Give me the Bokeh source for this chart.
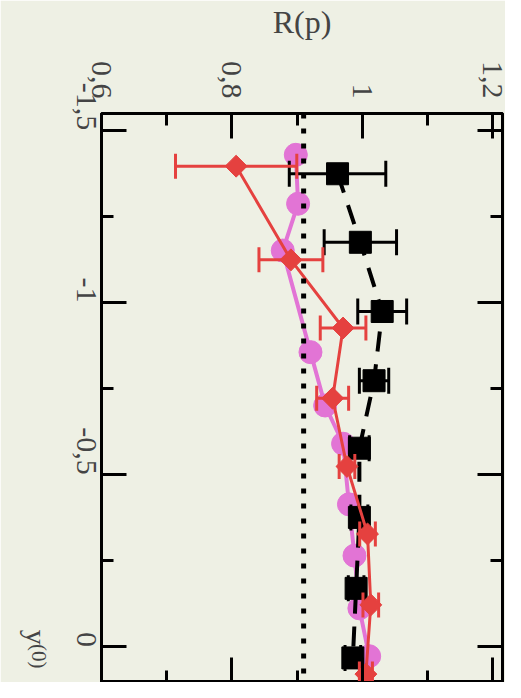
import math
from bokeh.plotting import figure
from bokeh.models import Range1d, LinearAxis, FixedTicker, Span
from bokeh.embed import file_html
from bokeh.resources import INLINE

# ---------------- data ----------------
# pink circles (no error bars)
pink_y0 = [-1.429, -1.287, -1.151, -0.856, -0.701, -0.590, -0.414, -0.265, -0.112, 0.027]
pink_R = [0.898, 0.9015, 0.878, 0.9205, 0.943, 0.9705, 0.9795, 0.988, 0.9955, 1.0105]

# black squares with errors
black_y0 = [-1.374, -1.175, -0.974, -0.773, -0.577, -0.376, -0.170, 0.032]
black_R = [0.962, 0.997, 1.0305, 1.018, 0.9955, 0.9955, 0.9905, 0.9855]
black_err = [0.074, 0.0555, 0.0375, 0.0225, 0.015, 0.013, 0.012, 0.012]

# red diamonds with errors
red_y0 = [-1.396, -1.124, -0.926, -0.722, -0.524, -0.328, -0.122, 0.079]
red_R = [0.8065, 0.8905, 0.9705, 0.9545, 0.9765, 1.008, 1.013, 1.0055]
red_err = [0.093, 0.049, 0.035, 0.0245, 0.012, 0.012, 0.012, 0.010]

ref_R = 0.91

R_ticks = [0.6, 0.8, 1.0, 1.2]
R_minor = [0.7, 0.9, 1.1]
R_labels = ["0,6", "0,8", "1", "1,2"]
y_ticks = [-1.5, -1.0, -0.5, 0.0]
y_minor = [-1.25, -0.75, -0.25]
y_labels = ["-1,5", "-1", "-0,5", "0"]
y_title_main = "y"
y_title_sup = "(0)"
y_main_at = -0.006
y_sup_at = 0.063

BG = "#eef0e4"
PINK = "#e274d5"
RED = "#e5413f"
FONT = "Liberation Serif"

p = figure(width=505, height=682,
           x_range=Range1d(0.6, 1.215), y_range=Range1d(0.1034, -1.549),
           x_axis_location="above", y_axis_location="left",
           output_backend="svg", toolbar_location=None,
           min_border_left=92, min_border_right=3,
           min_border_top=107, min_border_bottom=0,
           background_fill_color=BG, border_fill_color=BG)
p.grid.visible = False
p.outline_line_color = "black"
p.outline_line_width = 3

p.add_layout(LinearAxis(), "right")
p.add_layout(LinearAxis(), "below")

for ax in p.above + p.below:
    ax.ticker = FixedTicker(ticks=R_ticks, minor_ticks=R_minor)
    ax.major_label_overrides = {t: l for t, l in zip(R_ticks, R_labels)}
for ax in [p.left[0], p.right[0]]:
    ax.ticker = FixedTicker(ticks=y_ticks, minor_ticks=y_minor)
    ax.major_label_overrides = {t: l for t, l in zip(y_ticks, y_labels)}

for ax in p.above + p.below + [p.left[0], p.right[0]]:
    ax.axis_line_width = 3
    ax.major_tick_in = 25
    ax.major_tick_out = 0
    ax.minor_tick_in = 12
    ax.minor_tick_out = 0
    ax.major_tick_line_width = 3
    ax.minor_tick_line_width = 3
    ax.major_label_text_font = FONT
    ax.major_label_text_font_size = "30px"
    ax.major_label_orientation = -math.pi / 2

p.above[0].major_label_standoff = 15
p.left[0].major_label_standoff = 15

# mirrored axes: ticks only, no labels
for ax in (p.right[0], p.below[0]):
    ax.major_label_text_font_size = "1px"
    ax.major_label_text_color = None
    ax.major_label_standoff = 0

top = p.above[0]
top.axis_label = "R(p)"
top.axis_label_text_font = FONT
top.axis_label_text_font_size = "32px"
top.axis_label_text_font_style = "normal"
top.axis_label_standoff = 18


def title_axis(at, text, size, standoff):
    return LinearAxis(ticker=FixedTicker(ticks=[at], minor_ticks=[]),
                      major_label_overrides={at: text},
                      axis_line_color=None, major_tick_line_color=None,
                      minor_tick_line_color=None,
                      major_tick_in=0, major_tick_out=0,
                      major_label_standoff=standoff,
                      major_label_orientation=-math.pi / 2,
                      major_label_text_font=FONT,
                      major_label_text_font_size=size)

# y^(0): superscript part next to the tick labels, base letter further out
p.add_layout(title_axis(y_sup_at, y_title_sup, "21px", 26), "left")
p.add_layout(title_axis(y_main_at, y_title_main, "30px", -25), "left")

# reference dotted line
p.add_layout(Span(location=ref_R, dimension="height", line_color="black",
                  line_width=5, line_dash="5 10"))

# pink series
p.line(pink_R, pink_y0, line_color=PINK, line_width=4)
p.scatter(pink_R, pink_y0, marker="circle", size=23, fill_color=PINK, line_color=PINK)

# black series
b_lo = [r - e for r, e in zip(black_R, black_err)]
b_hi = [r + e for r, e in zip(black_R, black_err)]
p.line(black_R, black_y0, line_color="black", line_width=4, line_dash="20 13")
p.segment(b_lo, black_y0, b_hi, black_y0, line_color="black", line_width=3)
p.scatter(b_lo, black_y0, marker="dash", angle=math.pi / 2, size=26, line_color="black", line_width=3)
p.scatter(b_hi, black_y0, marker="dash", angle=math.pi / 2, size=26, line_color="black", line_width=3)
p.scatter(black_R, black_y0, marker="square", size=22, fill_color="black", line_color="black")

# red series
r_lo = [r - e for r, e in zip(red_R, red_err)]
r_hi = [r + e for r, e in zip(red_R, red_err)]
p.line(red_R, red_y0, line_color=RED, line_width=3)
p.segment(r_lo, red_y0, r_hi, red_y0, line_color=RED, line_width=3)
p.scatter(r_lo, red_y0, marker="dash", angle=math.pi / 2, size=25, line_color=RED, line_width=3)
p.scatter(r_hi, red_y0, marker="dash", angle=math.pi / 2, size=25, line_color=RED, line_width=3)
p.scatter(red_R, red_y0, marker="square", angle=math.pi / 4, size=15.5, fill_color=RED, line_color=RED)

open("out.html", "w").write(file_html(p, INLINE))
